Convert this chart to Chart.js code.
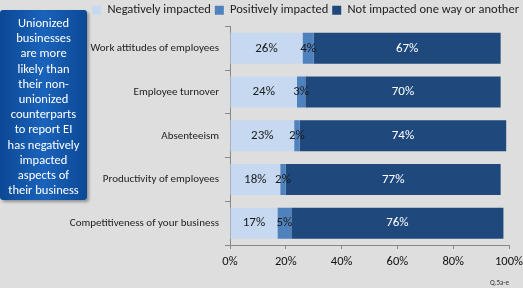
<!DOCTYPE html>
<html>
<head>
<meta charset="utf-8">
<script src="https://cdn.jsdelivr.net/npm/chart.js@4"></script>
<style>
  html, body { margin: 0; padding: 0; background: #dedede; overflow: hidden; }
  #wrap { position: relative; width: 523px; height: 288px; }
  #chart { display: block; }
  #note {
    position: absolute; left: 0; top: 10px; width: 87px; height: 190px;
    background: linear-gradient(to right, #0b4894, #1a63bb 50%, #0b4894);
    border-radius: 3px; box-shadow: 2px 2px 3px rgba(0,0,0,0.35);
    color: #fff; font-family: Carlito, Lato, sans-serif; font-size: 12.5px;
    line-height: 15.2px; text-align: center; padding-top: 5px; box-sizing: border-box;
    white-space: nowrap;
  }
  #src { position: absolute; right: 14px; bottom: 1px; font-family: Carlito, Lato, sans-serif; font-size: 7px; color: #333; }
</style>
</head>
<body>
<div id="wrap">
  <canvas id="chart" width="523" height="288"></canvas>
  <div id="note">Unionized<br>businesses<br>are more<br>likely than<br>their non-<br>unionized<br>counterparts<br>to report EI<br>has negatively<br>impacted<br>aspects of<br>their business</div>
  <div id="src">Q.5a-e</div>
</div>
<script>
// Categories and series
const categories = [
  'Work attitudes of employees',
  'Employee turnover',
  'Absenteeism',
  'Productivity of employees',
  'Competitiveness of your business'
];
const negative = [26, 24, 23, 18, 17];
const positive = [4, 3, 2, 2, 5];
const notImpacted = [67, 70, 74, 77, 76];
const xTicks = [0, 20, 40, 60, 80, 100];

const fontFamily = 'Carlito, Lato, sans-serif';

// Draw the percentage inside each bar segment
const barLabels = {
  id: 'barLabels',
  afterDatasetsDraw(chart) {
    const ctx = chart.ctx;
    ctx.save();
    ctx.font = '13px ' + fontFamily;
    ctx.textAlign = 'center';
    ctx.textBaseline = 'middle';
    chart.data.datasets.forEach((ds, i) => {
      const meta = chart.getDatasetMeta(i);
      meta.data.forEach((bar, j) => {
        const cx = (bar.x + bar.base) / 2;
        ctx.fillStyle = i === 2 ? '#ffffff' : '#1a1a1a';
        ctx.fillText(ds.data[j] + '%', cx, bar.y);
      });
    });
    ctx.restore();
  }
};

const ctx = document.getElementById('chart').getContext('2d');
new Chart(ctx, {
  type: 'bar',
  data: {
    labels: categories,
    datasets: [
      { label: 'Negatively impacted', data: negative, backgroundColor: '#c6d9f1' },
      { label: 'Positively impacted', data: positive, backgroundColor: '#4f81bd' },
      { label: 'Not impacted one way or another', data: notImpacted, backgroundColor: '#1f497d' }
    ]
  },
  options: {
    indexAxis: 'y',
    responsive: false,
    animation: false,
    datasets: { bar: { barPercentage: 0.71, categoryPercentage: 1 } },
    layout: { padding: { left: 0, right: 0, top: 0, bottom: 14 } },
    plugins: {
      legend: {
        position: 'top',
        align: 'end',
        labels: {
          boxWidth: 9, boxHeight: 9, padding: 4,
          color: '#222', font: { family: fontFamily, size: 12.5 }
        }
      },
      tooltip: { enabled: false }
    },
    scales: {
      x: {
        stacked: true, min: 0, max: 100,
        afterBuildTicks: s => { s.ticks = xTicks.map(v => ({ value: v })); },
        // fixed room on the right for the "100%" label
        afterFit: s => { s.paddingLeft = 0; s.paddingRight = 14; },
        grid: { drawOnChartArea: false, tickLength: 4, color: '#888' },
        border: { color: '#888' },
        ticks: { callback: v => v + '%', color: '#111', font: { family: fontFamily, size: 12.5 }, padding: 5 }
      },
      y: {
        stacked: true,
        afterFit: s => { s.width = 230; },
        grid: { drawOnChartArea: false, tickLength: 5, color: '#888', offset: true },
        border: { color: '#888' },
        ticks: { color: '#222', font: { family: fontFamily, size: 11 }, padding: 6 }
      }
    }
  },
  plugins: [barLabels]
});
</script>
</body>
</html>
